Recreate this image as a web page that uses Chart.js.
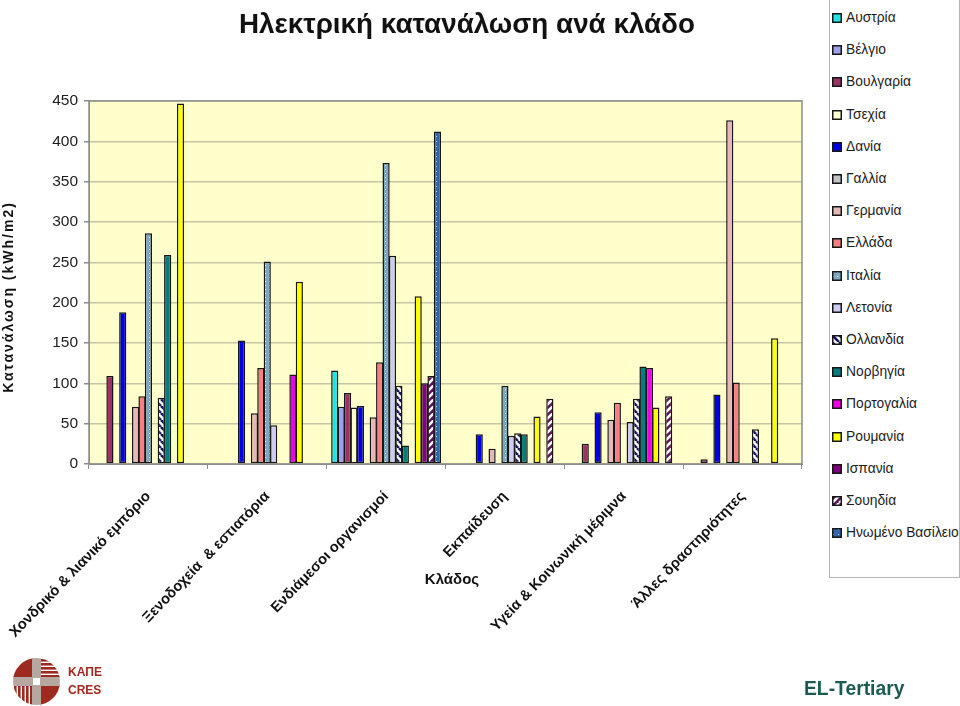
<!DOCTYPE html>
<html lang="el">
<head>
<meta charset="utf-8">
<title>Ηλεκτρική κατανάλωση ανά κλάδο</title>
<script src="https://cdn.jsdelivr.net/npm/chart.js@4/dist/chart.umd.min.js"></script>
<style>
    html, body { margin: 0; padding: 0; background: #fff; }
    #page { position: relative; width: 960px; height: 706px; overflow: hidden; font-family: "Liberation Sans", Arial, sans-serif; }
    #chart { position: absolute; left: 0; top: 0; }
    #legend { position: absolute; left: 829px; top: -1px; width: 129px; height: 577px; background: #fff; border: 1px solid #b4b4b4; }
    .item { position: absolute; left: 2px; height: 16px; line-height: 16px; font-size: 13.8px; color: #1c1c1c; white-space: nowrap; }
    .item canvas { position: absolute; left: 0; top: 3px; }
    .item span { position: absolute; left: 14px; top: 0; }
    #logo { position: absolute; left: 10px; top: 655px; }
    #brand { position: absolute; left: 804px; top: 678px; font-size: 19.3px; font-weight: bold; color: #1d5b52; }
</style>
</head>
<body>
<div id="page">
    <canvas id="chart" width="960" height="706"></canvas>
    <div id="legend"></div>
    <svg id="logo" width="100" height="51" viewBox="0 0 100 51">
        <defs>
            <clipPath id="disc"><circle cx="26.5" cy="26.5" r="23.5"/></clipPath>
            <pattern id="stripesH" width="4" height="4" patternUnits="userSpaceOnUse"><rect width="4" height="2.6" fill="#9c2a1e"/></pattern>
            <pattern id="stripesV" width="4" height="4" patternUnits="userSpaceOnUse"><rect width="2.6" height="4" fill="#9c2a1e"/></pattern>
        </defs>
        <g clip-path="url(#disc)">
            <rect x="0" y="0" width="23" height="23" fill="#9c2a1e"/>
            <rect x="30" y="3" width="24" height="20" fill="url(#stripesH)"/>
            <rect x="3" y="30" width="20" height="24" fill="url(#stripesV)"/>
            <rect x="30" y="30" width="24" height="24" fill="#9c2a1e"/>
            <rect x="3" y="22" width="47" height="9" fill="#b5a8a0"/>
            <rect x="22" y="3" width="9" height="47" fill="#b5a8a0"/>
            <rect x="23" y="23" width="7" height="7" fill="#fff"/>
        </g>
        <text x="58" y="21" font-size="12" font-weight="bold" fill="#a5281c" font-family="Liberation Sans">ΚΑΠΕ</text>
        <text x="58" y="39" font-size="12" font-weight="bold" fill="#a5281c" font-family="Liberation Sans">CRES</text>
    </svg>
    <div id="brand">EL-Tertiary</div>
</div>

<script>
// -------------------------------------------------------------------------
// Data
// -------------------------------------------------------------------------
const categories = [
    "Χονδρικό & λιανικό εμπόριο",
    "Ξενοδοχεία  & εστιατόρια",
    "Ενδιάμεσοι οργανισμοί",
    "Εκπαίδευση",
    "Υγεία & Κοινωνική μέριμνα",
    "Άλλες δραστηριότητες"
];
const yTicks = [0, 50, 100, 150, 200, 250, 300, 350, 400, 450];

const austria     = [null, null, 116, null, null, null];
const belgium     = [null, null, 71, null, null, null];
const bulgaria    = [109, null, 88, null, 25, 6];
const czechia     = [null, null, 70, null, null, null];
const denmark     = [188, 153, 72, 37, 64, 86];
const france      = [null, null, null, null, null, null];
const germany     = [71, 63, 58, 19, 55, 426];
const greece      = [84, 119, 126, null, 76, 101];
const italy       = [286, 251, 373, 97, null, null];
const latvia      = [null, 48, 258, 35, 52, null];
const netherlands = [82, null, 97, 38, 81, 43];
const norway      = [259, null, 23, 37, 121, null];
const portugal    = [null, 111, null, null, 119, null];
const romania     = [447, 226, 208, 59, 70, 156];
const spain       = [null, null, 100, null, null, null];
const sweden      = [null, null, 109, 81, 84, null];
const uk          = [null, null, 412, null, null, null];

const seriesNames = [
    "Αυστρία", "Βέλγιο", "Βουλγαρία", "Τσεχία", "Δανία", "Γαλλία", "Γερμανία", "Ελλάδα", "Ιταλία",
    "Λετονία", "Ολλανδία", "Νορβηγία", "Πορτογαλία", "Ρουμανία", "Ισπανία", "Σουηδία", "Ηνωμένο Βασίλειο"
];
const seriesValues = [
    austria, belgium, bulgaria, czechia, denmark, france, germany, greece, italy,
    latvia, netherlands, norway, portugal, romania, spain, sweden, uk
];

// -------------------------------------------------------------------------
// Fills
// -------------------------------------------------------------------------
function tile(size, paint) {
    const c = document.createElement("canvas");
    c.width = c.height = size;
    paint(c.getContext("2d"));
    return document.createElement("canvas").getContext("2d").createPattern(c, "repeat");
}

function diagonal(bg, fg, rising) {
    return tile(7, ctx => {
        ctx.fillStyle = bg;
        ctx.fillRect(0, 0, 7, 7);
        ctx.strokeStyle = fg;
        ctx.lineWidth = 2.6;
        for (let i = -7; i <= 7; i += 7) {
            ctx.beginPath();
            if (rising) { ctx.moveTo(i, 7); ctx.lineTo(i + 7, 0); }
            else { ctx.moveTo(i, 0); ctx.lineTo(i + 7, 7); }
            ctx.stroke();
        }
    });
}

function dotted(bg, fg, size) {
    return tile(size, ctx => {
        ctx.fillStyle = bg;
        ctx.fillRect(0, 0, size, size);
        ctx.fillStyle = fg;
        ctx.fillRect(1, 1, 1, 1);
    });
}

const seriesFills = [
    "#1fe6e6", "#9f9fee", "#993366", "#ffffd0", "#0000e6", "#c4c4c4", "#e6b9b9", "#f58080",
    dotted("#7fa8c4", "#e8f2f6", 4),
    "#ccccf5",
    diagonal("#ffffff", "#14145f", false),
    "#087c7c", "#f000e6", "#ffff00", "#800080",
    diagonal("#5c0f5c", "#ffffff", true),
    dotted("#2f66ac", "#c4d8ec", 5)
];

// -------------------------------------------------------------------------
// Plugins
// -------------------------------------------------------------------------
const plotFrame = {
    id: "plotFrame",
    afterLayout(chart) {
        // title sits a little right of the plot centre
        chart.titleBlock.left = 0;
        chart.titleBlock.right = 934;
    },
    beforeDraw(chart) {
        const { ctx, chartArea: a } = chart;
        ctx.save();
        ctx.fillStyle = "#ffffcc";
        ctx.fillRect(a.left, a.top, a.width, a.height);
        ctx.restore();
    },
    afterDraw(chart) {
        const { ctx, chartArea: a } = chart;
        ctx.save();
        ctx.strokeStyle = "#8c8c8c";
        ctx.lineWidth = 1.5;
        ctx.strokeRect(a.left, a.top, a.width, a.height);
        ctx.fillStyle = "#111";
        ctx.textAlign = "center";
        ctx.textBaseline = "middle";
        ctx.font = "bold 15px 'Liberation Sans'";
        ctx.fillText("Κλάδος", 452, 580);
        ctx.translate(9, 297);
        ctx.rotate(-Math.PI / 2);
        ctx.font = "bold 14px 'Liberation Sans'";
        ctx.letterSpacing = "2px";
        ctx.fillText("Κατανάλωση (kWh/m2)", 0, 0);
        ctx.restore();
    }
};

// -------------------------------------------------------------------------
// Chart
// -------------------------------------------------------------------------
new Chart(document.getElementById("chart").getContext("2d"), {
    type: "bar",
    plugins: [plotFrame],
    data: {
        labels: categories,
        datasets: seriesNames.map((name, i) => ({
            label: name,
            data: seriesValues[i],
            backgroundColor: seriesFills[i],
            borderColor: "#161616",
            borderWidth: 1.5,
            borderSkipped: false,
            barPercentage: 1.12,
            categoryPercentage: 0.918
        }))
    },
    options: {
        responsive: false,
        animation: false,
        layout: { padding: { left: 0, right: 158, top: 0, bottom: 0 } },
        plugins: {
            legend: { display: false },
            tooltip: { enabled: false },
            title: {
                display: true,
                text: "Ηλεκτρική κατανάλωση ανά κλάδο",
                color: "#111",
                font: { family: "'Liberation Sans'", size: 27.8, weight: "bold", lineHeight: 1.2 },
                padding: { top: 9, bottom: 58.6 }
            }
        },
        scales: {
            x: {
                afterFit: s => { s.height = 242; s.paddingLeft = 0; s.paddingRight = 0; },
                border: { color: "#8c8c8c" },
                grid: { drawOnChartArea: false, offset: true, tickLength: 5, color: "#8c8c8c" },
                ticks: {
                    autoSkip: false,
                    minRotation: 46,
                    maxRotation: 46,
                    padding: 19,
                    color: "#111",
                    font: { family: "'Liberation Sans'", size: 14.6, weight: "bold" }
                }
            },
            y: {
                min: 0,
                max: 450,
                afterFit: s => { s.width = 89; },
                afterBuildTicks: s => { s.ticks = yTicks.map(v => ({ value: v })); },
                border: { color: "#8c8c8c" },
                grid: { color: "#c6c6a6", tickColor: "#8c8c8c", tickLength: 5, lineWidth: 1.5 },
                ticks: {
                    padding: 6,
                    color: "#1c1c1c",
                    font: { family: "'Liberation Sans'", size: 15.5 }
                }
            }
        }
    }
});

// -------------------------------------------------------------------------
// Legend
// -------------------------------------------------------------------------
const legendBox = document.getElementById("legend");
seriesNames.forEach((name, i) => {
    const row = document.createElement("div");
    row.className = "item";
    row.style.top = (10 + i * 32.2) + "px";

    const swatch = document.createElement("canvas");
    swatch.width = swatch.height = 10;
    const g = swatch.getContext("2d");
    g.fillStyle = seriesFills[i];
    g.fillRect(0, 0, 10, 10);
    g.strokeStyle = "#161616";
    g.lineWidth = 1.5;
    g.strokeRect(0.75, 0.75, 8.5, 8.5);

    const text = document.createElement("span");
    text.textContent = name;

    row.append(swatch, text);
    legendBox.append(row);
});
</script>
</body>
</html>
